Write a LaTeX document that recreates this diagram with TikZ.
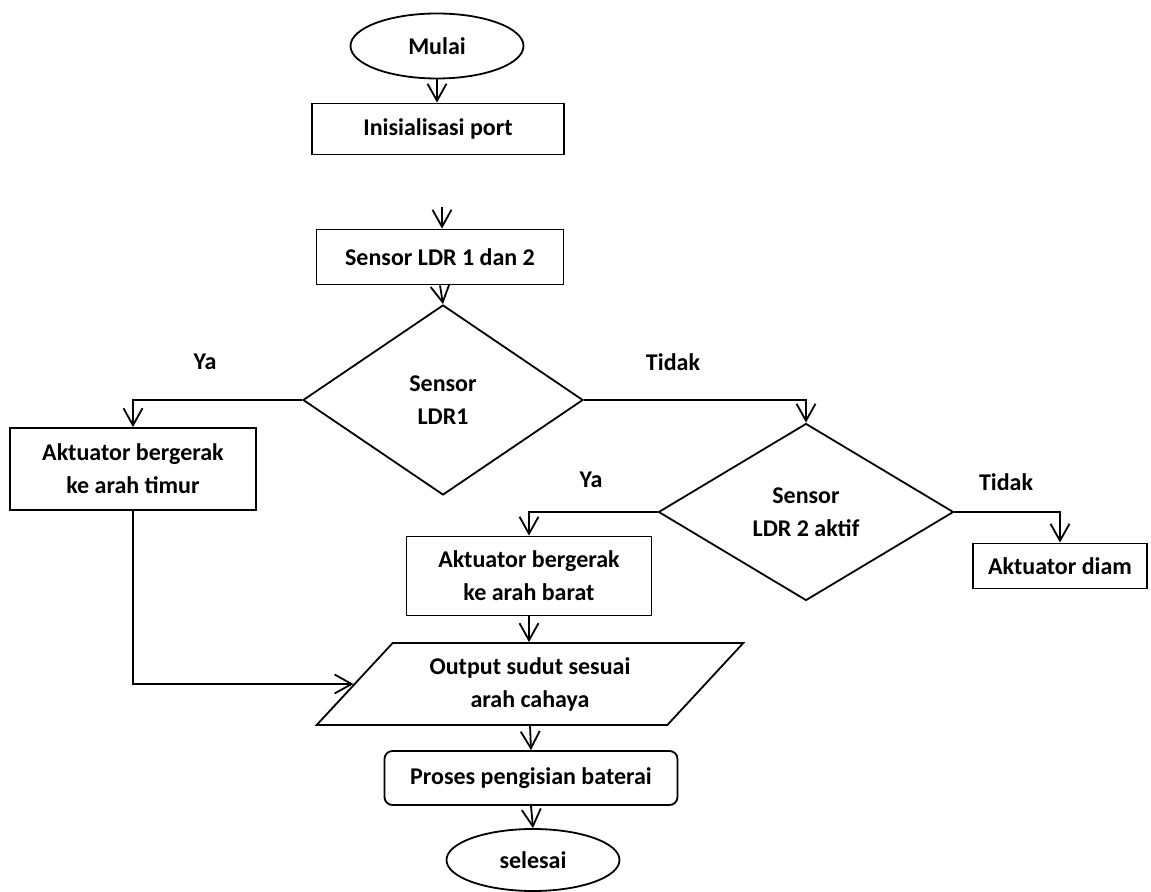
\documentclass[tikz,border=0pt]{standalone}
\usepackage{fontspec}
\setmainfont{Carlito}
\usetikzlibrary{shapes.geometric,arrows.meta}
\begin{document}
\begin{tikzpicture}[x=0.5pt, y=-0.5pt, line width=0.9pt,
    font=\fontsize{12}{16.5}\selectfont\bfseries,
    box/.style={draw, rectangle, align=center, inner sep=0pt},
    term/.style={draw, ellipse, inner sep=0pt, minimum width=86.5pt},
    decide/.style={draw, diamond, align=center, inner sep=0pt},
    io/.style={draw, trapezium, trapezium left angle=44, trapezium right angle=136,
        trapezium stretches=true, align=center, inner sep=0pt},
    flow/.style={-{Straight Barb[length=8.5pt, width=9.5pt]}}]
    \useasboundingbox (0,0) rectangle (1151,892);

    \node [term, minimum height=32.5pt] (start) at (437,46) {Mulai};
    \node [box, minimum width=126pt, minimum height=25.5pt] (init) at (438,129) {Inisialisasi port};
    \coordinate (gap) at (442,207);
    \node [box, minimum width=123.5pt, minimum height=27.5pt] (sensors) at (440,257) {Sensor LDR 1 dan 2};
    \node [decide, minimum width=140pt, minimum height=95pt] (ldr1) at (443,400) {Sensor\\LDR1};
    \node [box, minimum width=123pt, minimum height=41pt] (timur) at (133,469) {Aktuator bergerak\\ke arah timur};
    \node [decide, minimum width=147.5pt, minimum height=88.5pt] (ldr2) at (806,512) {Sensor\\LDR 2 aktif};
    \node [box, minimum width=122.5pt, minimum height=39.5pt] (barat) at (529,576) {Aktuator bergerak\\ke arah barat};
    \node [box, minimum width=87pt, minimum height=22.5pt] (diam) at (1060,566) {Aktuator diam};
    \node [io, minimum width=213.5pt, minimum height=41pt] (output) at (530,684) {Output sudut sesuai\\arah cahaya};
    \node [box, rounded corners=4pt, minimum width=146.5pt, minimum height=27pt] (charge) at (531,778) {Proses pengisian baterai};
    \node [term, minimum height=31pt] (stop) at (533,860) {selesai};

    \node (ya1) at (205,362) {Ya};
    \node (tidak1) at (673,362) {Tidak};
    \node (ya2) at (591,480) {Ya};
    \node (tidak2) at (1006,482) {Tidak};

    \draw [flow] (start.south) -- (start.south |- init.north);
    \draw [flow] (gap) -- (gap |- sensors.north);
    \draw [flow] (sensors.south) -- (ldr1.north);
    \draw [flow] (ldr1.west) -| (timur.north);
    \draw [flow] (ldr1.east) -| (ldr2.north);
    \draw [flow] (ldr2.west) -| (barat.north);
    \draw [flow] (ldr2.east) -| (diam.north);
    \draw [flow] (barat.south) -- (barat.south |- output.north);
    \draw [flow] (timur.south) |- (output.west);
    \draw [flow] (output.south) -- (charge.north);
    \draw [flow] (charge.south) -- (stop.north);
\end{tikzpicture}
\end{document}
